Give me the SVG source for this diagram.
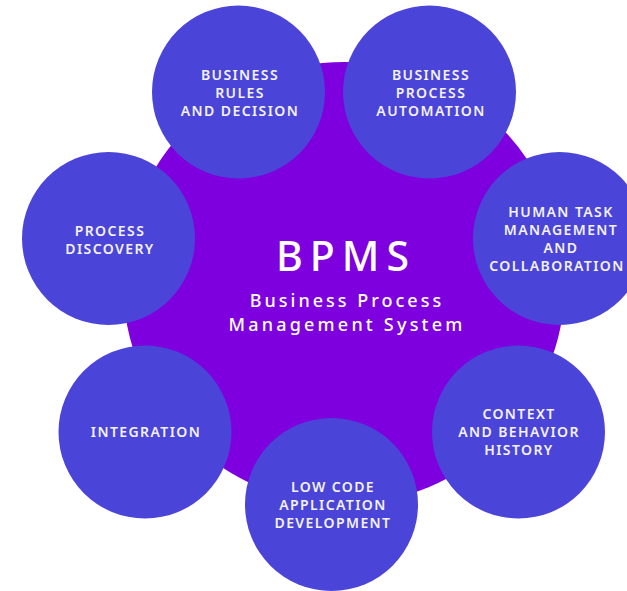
<svg xmlns="http://www.w3.org/2000/svg" width="627" height="591" viewBox="0 0 627 591">
<style>
.hub{fill:#7E00DE}
.sat{fill:#4B44D8}
.lbl{font-family:"Noto Sans","Open Sans",sans-serif;font-weight:600;font-size:14px;letter-spacing:1.4px;fill:#F2F2F7;text-anchor:middle}
.title{font-family:"Noto Sans","Open Sans",sans-serif;font-weight:500;fill:#FFFFFF;text-anchor:middle}
</style>
<rect width="627" height="591" fill="#FFFFFF"/>
<g id="bpms">
<circle class="hub" cx="344" cy="283" r="221"/>
<text class="title" x="346" y="271" font-size="41" letter-spacing="7">BPMS</text>
<text class="title" x="347" y="307" font-size="18" letter-spacing="3">Business Process</text>
<text class="title" x="347" y="331" font-size="18" letter-spacing="3.2">Management System</text>
</g>
<g id="business-rules">
<circle class="sat" cx="238.5" cy="92" r="86.5"/>
<text class="lbl" x="240" y="80">BUSINESS</text>
<text class="lbl" x="240" y="98">RULES</text>
<text class="lbl" x="240" y="116">AND DECISION</text>
</g>
<g id="business-process-automation">
<circle class="sat" cx="429.5" cy="92" r="86.5"/>
<text class="lbl" x="431" y="80">BUSINESS</text>
<text class="lbl" x="431" y="98">PROCESS</text>
<text class="lbl" x="431" y="116">AUTOMATION</text>
</g>
<g id="human-task">
<circle class="sat" cx="559.5" cy="238.5" r="86.5"/>
<text class="lbl" x="561" y="217">HUMAN TASK</text>
<text class="lbl" x="561" y="235">MANAGEMENT</text>
<text class="lbl" x="561" y="253">AND</text>
<text class="lbl" x="557" y="271" letter-spacing="1.1">COLLABORATION</text>
</g>
<g id="process-discovery">
<circle class="sat" cx="108.5" cy="238.5" r="86.5"/>
<text class="lbl" x="110" y="235.5">PROCESS</text>
<text class="lbl" x="110" y="253.5">DISCOVERY</text>
</g>
<g id="integration">
<circle class="sat" cx="145" cy="432" r="86.5"/>
<text class="lbl" x="146" y="437">INTEGRATION</text>
</g>
<g id="low-code">
<circle class="sat" cx="331.5" cy="504.5" r="86.5"/>
<text class="lbl" x="333" y="492">LOW CODE</text>
<text class="lbl" x="333" y="510">APPLICATION</text>
<text class="lbl" x="333" y="528">DEVELOPMENT</text>
</g>
<g id="context">
<circle class="sat" cx="518.5" cy="432" r="86.5"/>
<text class="lbl" x="519" y="419">CONTEXT</text>
<text class="lbl" x="519" y="437">AND BEHAVIOR</text>
<text class="lbl" x="519" y="455">HISTORY</text>
</g>
<g id="connectors"/>
</svg>
